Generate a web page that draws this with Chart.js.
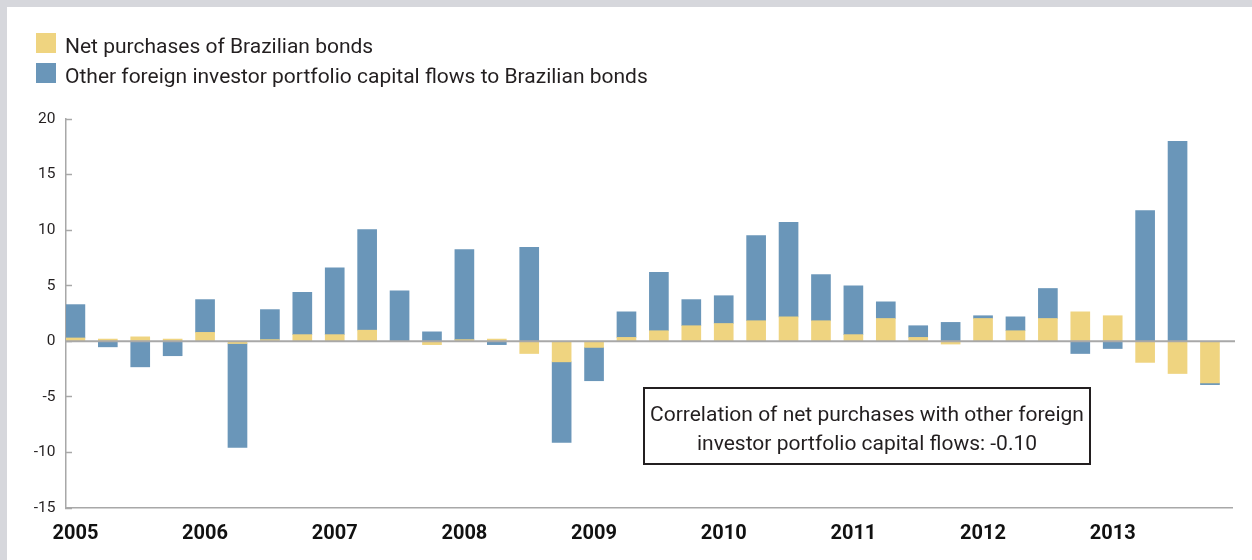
<!DOCTYPE html>
<html>
<head>
<meta charset="utf-8">
<title>Foreign flows to Brazilian bonds</title>
<script src="https://cdn.jsdelivr.net/npm/chart.js@4.4.1/dist/chart.umd.min.js"></script>
<style>
  html, body { margin: 0; padding: 0; background: #fff; }
  #wrap { position: relative; width: 1252px; height: 560px; overflow: hidden; background: #fff; }
  #wrap::before { content: ''; position: absolute; left: 0; top: 0; width: 1252px; height: 7px; background: #d6d7dc; z-index: 2; }
  #wrap::after { content: ''; position: absolute; left: 0; top: 0; width: 7px; height: 560px; background: #d6d7dc; z-index: 2; }
  canvas { position: absolute; left: 0; top: 0; }
</style>
</head>
<body>
<div id="wrap"><canvas id="chart" width="1252" height="560"></canvas></div>
<script>
// Quarterly categories, 2005 Q1 to 2013 Q4
const quarters = [
  '2005 Q1', '2005 Q2', '2005 Q3', '2005 Q4',
  '2006 Q1', '2006 Q2', '2006 Q3', '2006 Q4',
  '2007 Q1', '2007 Q2', '2007 Q3', '2007 Q4',
  '2008 Q1', '2008 Q2', '2008 Q3', '2008 Q4',
  '2009 Q1', '2009 Q2', '2009 Q3', '2009 Q4',
  '2010 Q1', '2010 Q2', '2010 Q3', '2010 Q4',
  '2011 Q1', '2011 Q2', '2011 Q3', '2011 Q4',
  '2012 Q1', '2012 Q2', '2012 Q3', '2012 Q4',
  '2013 Q1', '2013 Q2', '2013 Q3', '2013 Q4'
];

// Net purchases of Brazilian bonds
const netPurchases = [
  0.3, 0.2, 0.4, 0.2,
  0.8, -0.2, 0.15, 0.6,
  0.6, 1.0, 0, -0.3,
  0.15, 0.2, -1.1, -1.85,
  -0.55, 0.35, 0.95, 1.4,
  1.6, 1.85, 2.2, 1.85,
  0.6, 2.05, 0.35, -0.25,
  2.05, 0.95, 2.05, 2.65,
  2.3, -1.9, -2.9, -3.75
];

// Other foreign investor portfolio capital flows to Brazilian bonds
const otherFlows = [
  3.0, -0.5, -2.3, -1.3,
  2.95, -9.35, 2.7, 3.8,
  6.0, 9.05, 4.55, 0.85,
  8.1, -0.3, 8.45, -7.25,
  -3.0, 2.3, 5.25, 2.35,
  2.5, 7.65, 8.5, 4.15,
  4.4, 1.5, 1.05, 1.7,
  0.25, 1.25, 2.7, -1.1,
  -0.65, 11.75, 18.0, -0.15
];

const seriesNames = [
  'Net purchases of Brazilian bonds',
  'Other foreign investor portfolio capital flows to Brazilian bonds'
];

// Year labels sit under the first quarter of each year
const yearLabels = ['2005', '2006', '2007', '2008', '2009', '2010', '2011', '2012', '2013'];
const yearTickIndex = [0, 4, 8, 12, 16, 20, 24, 28, 32];

const yTicks = { min: -15, max: 20, step: 5 };

const noteLines = [
  'Correlation of net purchases with other foreign',
  'investor portfolio capital flows: -0.10'
];

const FONT = 'Roboto, "Liberation Sans", Arial, sans-serif';
const INK = '#231f20';
const AXIS = '#a8a8a8';

Chart.defaults.font.family = FONT;
Chart.defaults.color = INK;

// Horizontal line through zero, drawn above the bars
const zeroLine = {
  id: 'zeroLine',
  afterDatasetsDraw(chart, args, opts) {
    const { ctx, chartArea, scales } = chart;
    const y = scales.y.getPixelForValue(0);
    ctx.save();
    ctx.strokeStyle = opts.color;
    ctx.lineWidth = opts.width;
    ctx.beginPath();
    ctx.moveTo(chartArea.left, y);
    ctx.lineTo(chartArea.right + opts.overhang, y);
    ctx.stroke();
    ctx.restore();
  }
};

// Series key stacked in two rows above the plot
const seriesKey = {
  id: 'seriesKey',
  afterDraw(chart, args, opts) {
    const { ctx } = chart;
    ctx.save();
    ctx.font = `${opts.size}px ${FONT}`;
    ctx.textBaseline = 'alphabetic';
    ctx.textAlign = 'left';
    chart.data.datasets.forEach((ds, i) => {
      const top = opts.top + i * opts.rowGap;
      ctx.fillStyle = ds.backgroundColor;
      ctx.fillRect(opts.left, top, opts.box, opts.box);
      ctx.fillStyle = opts.color;
      ctx.fillText(ds.label, opts.textLeft, top + opts.baseline);
    });
    ctx.restore();
  }
};

// Boxed note with the correlation figure
const noteBox = {
  id: 'noteBox',
  afterDraw(chart, args, opts) {
    const { ctx } = chart;
    ctx.save();
    ctx.fillStyle = '#ffffff';
    ctx.fillRect(opts.x, opts.y, opts.w, opts.h);
    ctx.strokeStyle = opts.border;
    ctx.lineWidth = opts.lineWidth;
    ctx.strokeRect(opts.x, opts.y, opts.w, opts.h);
    ctx.fillStyle = opts.color;
    ctx.font = `${opts.size}px ${FONT}`;
    ctx.textAlign = 'center';
    ctx.textBaseline = 'alphabetic';
    opts.lines.forEach((line, i) => {
      ctx.fillText(line, opts.x + opts.w / 2, opts.firstBaseline + i * opts.lineGap);
    });
    ctx.restore();
  }
};

const toPoints = values => values.map((v, i) => ({ x: i, y: v }));

new Chart(document.getElementById('chart'), {
  type: 'bar',
  data: {
    datasets: [
      { label: seriesNames[0], data: toPoints(netPurchases), backgroundColor: '#efd480' },
      { label: seriesNames[1], data: toPoints(otherFlows), backgroundColor: '#6a96b9' }
    ]
  },
  options: {
    responsive: false,
    animation: false,
    devicePixelRatio: 1,
    layout: { padding: { top: 119, right: 20, bottom: 0, left: 0 } },
    datasets: { bar: { barThickness: 19, borderWidth: 0 } },
    plugins: {
      legend: { display: false },
      tooltip: {
        callbacks: { title: items => quarters[items[0].parsed.x] }
      },
      zeroLine: { color: AXIS, width: 2, overhang: 3 },
      seriesKey: { left: 36, top: 33, box: 20, rowGap: 30, textLeft: 65, baseline: 19.5, size: 21, color: INK },
      noteBox: {
        x: 644, y: 388, w: 446, h: 76, border: '#231f20', lineWidth: 2,
        size: 21, color: INK, lines: noteLines, firstBaseline: 421, lineGap: 29
      }
    },
    scales: {
      x: {
        type: 'linear',
        offset: false,
        stacked: true,
        min: -0.29,
        max: 35.68,
        grid: { display: false, offset: false },
        border: { color: AXIS, width: 1.5 },
        afterBuildTicks: scale => { scale.ticks = yearTickIndex.map(v => ({ value: v })); },
        afterFit: scale => { scale.height = 52; },
        ticks: {
          autoSkip: false,
          maxRotation: 0,
          padding: 6,
          color: '#111111',
          font: { size: 20, weight: 'bold' },
          callback: value => yearLabels[yearTickIndex.indexOf(value)]
        }
      },
      y: {
        stacked: true,
        min: yTicks.min,
        max: yTicks.max,
        afterFit: scale => { scale.width = 66; },
        grid: { drawOnChartArea: false, drawTicks: true, tickLength: -6, tickColor: AXIS, tickWidth: 1.5 },
        border: { color: AXIS, width: 1.5 },
        ticks: { stepSize: yTicks.step, padding: 16.5, color: INK, font: { size: 15.5 } }
      }
    }
  },
  plugins: [zeroLine, seriesKey, noteBox]
});
</script>
</body>
</html>
